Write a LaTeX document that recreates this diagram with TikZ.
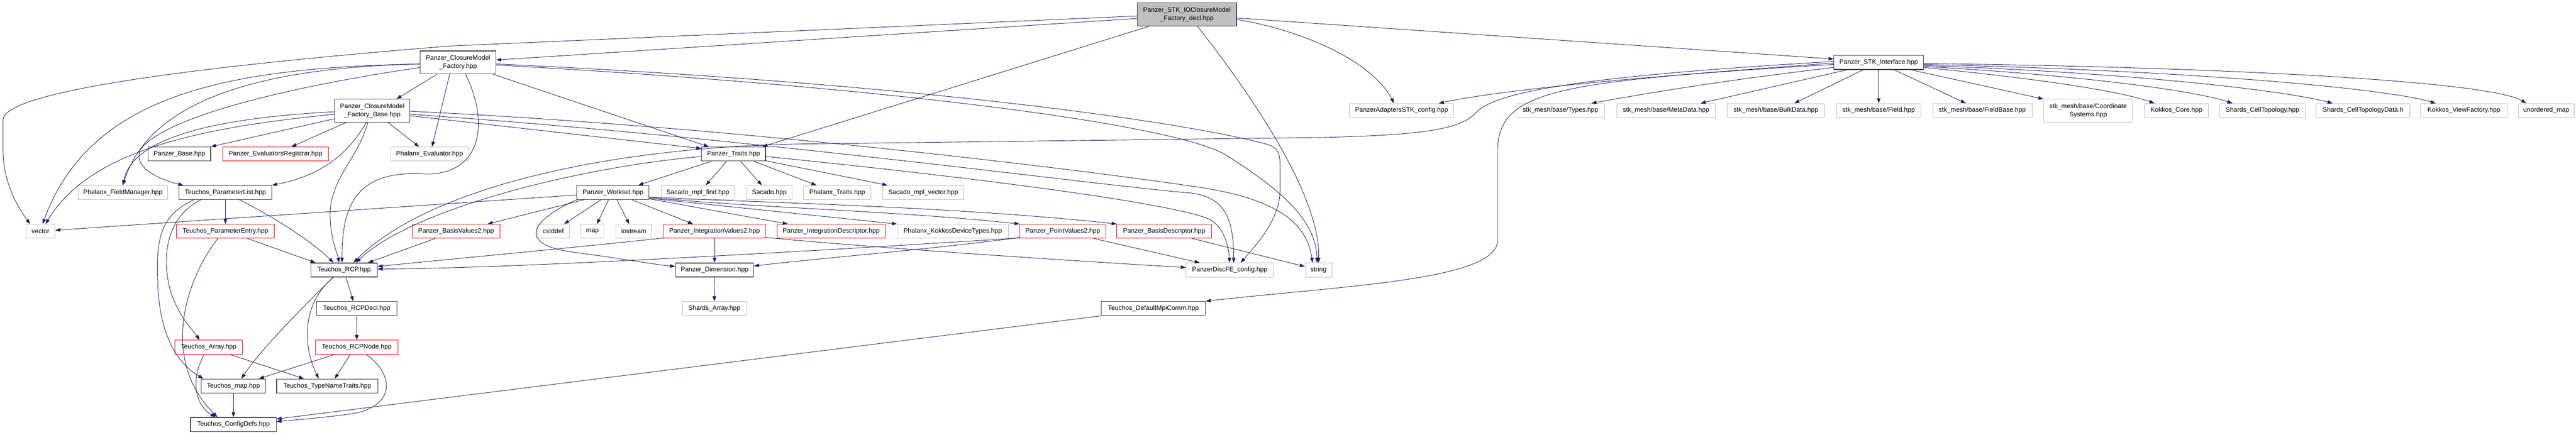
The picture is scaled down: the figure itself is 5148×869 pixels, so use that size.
\documentclass[tikz,border=0pt]{standalone}
\usepackage{fontspec}
\setmainfont{Liberation Sans}
\usetikzlibrary{arrows.meta,calc}
\definecolor{edgec}{HTML}{191970}
\definecolor{grayb}{HTML}{BFBFBF}
\definecolor{blackb}{HTML}{404040}
\begin{document}
\begin{tikzpicture}[x=1pt,y=-1pt,
  every node/.style={rectangle, inner sep=0pt, align=center, font=\fontsize{13}{17}\selectfont},
  nb/.style={draw=blackb, line width=1.3pt, fill=white, minimum height=28pt},
  ng/.style={draw=grayb, line width=1pt, fill=white, minimum height=28pt},
  nr/.style={draw=red, line width=1pt, fill=white, minimum height=28pt},
  nroot/.style={draw=blackb, line width=1.3pt, fill=grayb},
  edg/.style={draw=edgec, line width=0.9pt, -{Triangle[length=10pt,width=7pt]}}
]
\useasboundingbox (0,0) rectangle (5148,869);
\fill[white] (0,0) rectangle (5148,869);

% ---------- nodes ----------
\node[nroot, minimum width=198pt, minimum height=46pt] (R) at (2372,29) {Panzer\_STK\_IOClosureModel\\\_Factory\_decl.hpp};
\node[nb, minimum width=151pt, minimum height=46pt] (CMF) at (915.5,125) {Panzer\_ClosureModel\\\_Factory.hpp};
\node[nb, minimum width=150pt, minimum height=46pt] (CMFB) at (744,221.5) {Panzer\_ClosureModel\\\_Factory\_Base.hpp};
\node[nb, minimum width=125pt] (PBase) at (358.5,308) {Panzer\_Base.hpp};
\node[nr, minimum width=211pt] (EvalReg) at (550.5,308) {Panzer\_EvaluatorsRegistrar.hpp};
\node[ng, minimum width=155pt] (PhxEval) at (858.5,308) {Phalanx\_Evaluator.hpp};
\node[nb, minimum width=128pt] (Traits) at (1466,308) {Panzer\_Traits.hpp};
\node[ng, minimum width=179pt] (PhxFM) at (245.5,385) {Phalanx\_FieldManager.hpp};
\node[nb, minimum width=185pt] (PList) at (450.5,385) {Teuchos\_ParameterList.hpp};
\node[nb, minimum width=144pt] (Workset) at (1225,385) {Panzer\_Workset.hpp};
\node[ng, minimum width=147pt] (MplFind) at (1394.5,385) {Sacado\_mpl\_find.hpp};
\node[ng, minimum width=91pt] (Sacado) at (1537.5,385) {Sacado.hpp};
\node[ng, minimum width=134pt] (PhxTraits) at (1673,385) {Phalanx\_Traits.hpp};
\node[ng, minimum width=162pt] (MplVec) at (1845,385) {Sacado\_mpl\_vector.hpp};
\node[ng, minimum width=58pt] (vector) at (81,462.5) {vector};
\node[nr, minimum width=195pt] (PEntry) at (450.5,462.5) {Teuchos\_ParameterEntry.hpp};
\node[nr, minimum width=175pt] (BV2) at (911.5,462.5) {Panzer\_BasisValues2.hpp};
\node[ng, minimum width=65pt] (cstddef) at (1105.5,462.5) {cstddef};
\node[ng, minimum width=46pt] (map) at (1184,462.5) {map};
\node[ng, minimum width=71pt] (iostream) at (1266.5,462.5) {iostream};
\node[nr, minimum width=202pt] (IV2) at (1428,462.5) {Panzer\_IntegrationValues2.hpp};
\node[nr, minimum width=216pt] (IDesc) at (1661,462.5) {Panzer\_IntegrationDescriptor.hpp};
\node[ng, minimum width=222pt] (PKDT) at (1904,462.5) {Phalanx\_KokkosDeviceTypes.hpp};
\node[nr, minimum width=172pt] (PV2) at (2124,462.5) {Panzer\_PointValues2.hpp};
\node[nr, minimum width=189pt] (BD) at (2326.5,462.5) {Panzer\_BasisDescriptor.hpp};
\node[nb, minimum width=133pt] (RCP) at (687.5,540) {Teuchos\_RCP.hpp};
\node[nb, minimum width=156pt] (Dim) at (1428,540) {Panzer\_Dimension.hpp};
\node[ng, minimum width=175pt] (DiscFE) at (2457.5,540) {PanzerDiscFE\_config.hpp};
\node[ng, minimum width=54pt] (string) at (2635,540) {string};
\node[nb, minimum width=160pt] (RCPDecl) at (713,617) {Teuchos\_RCPDecl.hpp};
\node[ng, minimum width=127pt] (SArray) at (1427.5,617) {Shards\_Array.hpp};
\node[nb, minimum width=208pt] (Mpi) at (2305,617) {Teuchos\_DefaultMpiComm.hpp};
\node[nr, minimum width=134pt] (TArray) at (417,694.5) {Teuchos\_Array.hpp};
\node[nr, minimum width=164pt] (RCPNode) at (713,694.5) {Teuchos\_RCPNode.hpp};
\node[nb, minimum width=129pt] (TMap) at (466.5,772) {Teuchos\_map.hpp};
\node[nb, minimum width=202pt] (TNT) at (654,772) {Teuchos\_TypeNameTraits.hpp};
\node[nb, minimum width=171pt] (CDefs) at (466.5,849) {Teuchos\_ConfigDefs.hpp};
\node[ng, minimum width=208pt] (PASTK) at (2801,221) {PanzerAdaptersSTK\_config.hpp};
\node[ng, minimum width=177pt] (Types) at (3118.5,221) {stk\_mesh/base/Types.hpp};
\node[ng, minimum width=197pt] (Meta) at (3329.5,221) {stk\_mesh/base/MetaData.hpp};
\node[ng, minimum width=194pt] (Bulk) at (3549,221) {stk\_mesh/base/BulkData.hpp};
\node[nb, minimum width=179pt] (STKI) at (3754.5,125) {Panzer\_STK\_Interface.hpp};
\node[ng, minimum width=169pt] (Field) at (3754.5,221) {stk\_mesh/base/Field.hpp};
\node[ng, minimum width=199pt] (FieldBase) at (3961.5,221) {stk\_mesh/base/FieldBase.hpp};
\node[ng, minimum width=178pt, minimum height=46pt] (Coord) at (4173,221.5) {stk\_mesh/base/Coordinate\\Systems.hpp};
\node[ng, minimum width=127pt] (KCore) at (4349.5,221) {Kokkos\_Core.hpp};
\node[ng, minimum width=171pt] (CellTop) at (4521.5,221) {Shards\_CellTopology.hpp};
\node[ng, minimum width=187pt] (CellTopD) at (4722.5,221) {Shards\_CellTopologyData.h};
\node[ng, minimum width=172pt] (ViewF) at (4924,221) {Kokkos\_ViewFactory.hpp};
\node[ng, minimum width=111pt] (umap) at (5088.5,221) {unordered\_map};

% ---------- edges: root ----------
\draw[edg] ($(R.west)+(0,3)$) -- (900,92) .. controls (300,140) and (6,190) .. (6,240) -- (6,300) .. controls (6,370) and (40,420) .. ($(vector.north)+(-21,0)$);
\draw[edg] ($(R.west)+(0,8)$) -- ($(CMF.east)+(0,-5)$);
\draw[edg] ($(R.south west)+(24,0)$) -- ($(Traits.north east)+(-7,0)$);
\draw[edg] ($(R.east)+(0,10)$) .. controls (2600,60) and (2740,120) .. ($(PASTK.north)+(-15,0)$);
\draw[edg] ($(R.east)+(0,7)$) -- ($(STKI.west)+(0,-7)$);
\draw[edg] ($(R.south)+(21,0)$) .. controls (2470,150) and (2640,380) .. (string.north);

% ---------- CMF ----------
\draw[edg] ($(CMF.west)+(0,3)$) .. controls (450,135) and (180,190) .. ($(vector.north)+(4,0)$);
\draw[edg] ($(CMF.west)+(0,3)$) .. controls (520,135) and (300,200) .. (PhxFM.north);
\draw[edg] ($(CMF.west)+(0,10)$) .. controls (600,170) and (330,230) .. (280,300) .. controls (265,340) and (330,362) .. ($(PList.north west)+(9,0)$);
\draw[edg] ($(CMF.south west)+(34,0)$) -- ($(CMFB.north east)+(-27,0)$);
\draw[edg] ($(CMF.south)+(-17,0)$) -- ($(PhxEval.north)+(5,0)$);
\draw[edg] ($(CMF.south)+(15,0)$) .. controls (980,250) and (960,350) .. (850,348) .. controls (720,340) and (683,400) .. ($(RCP.north)+(-4,0)$);
\draw[edg] ($(CMF.south east)+(-6,0)$) -- ($(Traits.north west)+(15,0)$);
\draw[edg] ($(CMF.east)+(0,3)$) .. controls (1800,165) and (2350,240) .. (2530,288) .. controls (2560,296) and (2558,315) .. (2558,340) -- (2558,380) .. controls (2558,440) and (2510,490) .. ($(DiscFE.north)+(22,0)$);
\draw[edg] ($(CMF.east)+(0,5)$) .. controls (1800,175) and (2350,250) .. (2450,310) .. controls (2560,380) and (2630,440) .. ($(string.north)+(-3,0)$);

% ---------- CMF Base ----------
\draw[edg] ($(CMFB.west)+(0,2)$) .. controls (450,235) and (265,270) .. (PhxFM.north);
\draw[edg] ($(CMFB.west)+(0,7)$) .. controls (400,255) and (180,300) .. ($(vector.north)+(10,0)$);
\draw[edg] ($(CMFB.west)+(0,16)$) -- (PBase.north east);
\draw[edg] ($(CMFB.south west)+(23,0)$) -- ($(EvalReg.north)+(32,0)$);
\draw[edg] ($(CMFB.south)+(-12,0)$) .. controls (700,300) and (650,350) .. (PList.north east);
\draw[edg] ($(CMFB.south)+(-9,0)$) .. controls (715,320) and (655,360) .. (660,440) .. controls (662,480) and (675,510) .. ($(RCP.north)+(-10,0)$);
\draw[edg] ($(CMFB.south east)+(-44,0)$) -- ($(PhxEval.north west)+(57,0)$);
\draw[edg] ($(CMFB.east)+(0,10)$) -- ($(Traits.west)+(0,-11)$);
\draw[edg] ($(CMFB.east)+(0,1)$) .. controls (1500,255) and (2200,345) .. (2400,375) .. controls (2560,400) and (2612,450) .. ($(string.north)+(-12,0)$);
\draw[edg] ($(CMFB.east)+(0,7)$) .. controls (1500,275) and (2200,372) .. (2380,386) .. controls (2450,395) and (2465,440) .. ($(DiscFE.north)+(8,0)$);

% ---------- Traits ----------
\draw[edg] ($(Traits.south west)+(20,0)$) -- ($(Workset.north east)+(-22,0)$);
\draw[edg] ($(Traits.south)+(-14,0)$) -- ($(MplFind.north)+(16,0)$);
\draw[edg] ($(Traits.south)+(14,0)$) -- ($(Sacado.north)+(-15,0)$);
\draw[edg] ($(Traits.south east)+(-24,0)$) -- ($(PhxTraits.north west)+(26,0)$);
\draw[edg] ($(Traits.south east)+(0,-1)$) -- ($(MplVec.north west)+(10,0)$);
\draw[edg] ($(Traits.east)+(0,5)$) .. controls (1900,350) and (2350,405) .. (2420,440) .. controls (2445,455) and (2455,490) .. (DiscFE.north);
\draw[edg] ($(Traits.west)+(0,5)$) .. controls (1150,335) and (820,420) .. ($(RCP.north)+(24,0)$);

% ---------- Workset ----------
\draw[edg] ($(Workset.west)+(0,5)$) -- ($(vector.east)+(0,-2)$);
\draw[edg] ($(Workset.south west)+(14,0)$) -- ($(BV2.north east)+(-25,0)$);
\draw[edg] ($(Workset.south west)+(2,-1)$) .. controls (1060,440) and (1030,490) .. (1150,505) .. controls (1250,518) and (1300,528) .. ($(Dim.west)+(0,-7)$);
\draw[edg] ($(Workset.south)+(-24,0)$) -- ($(cstddef.north east)+(-11,0)$);
\draw[edg] ($(Workset.south)+(-9,0)$) -- ($(map.north)+(9,0)$);
\draw[edg] ($(Workset.south)+(8,0)$) -- ($(iostream.north)+(-9,0)$);
\draw[edg] ($(Workset.south)+(38,0)$) -- ($(IV2.north)+(-43,0)$);
\draw[edg] ($(Workset.south east)+(0,-2)$) -- ($(IDesc.north west)+(22,0)$);
\draw[edg] ($(Workset.south east)+(0,-3)$) -- (PKDT.north west);
\draw[edg] ($(Workset.east)+(0,10)$) .. controls (1500,415) and (1800,422) .. (PV2.north west);
\draw[edg] ($(Workset.east)+(0,9)$) .. controls (1500,405) and (1900,412) .. (BD.north west);

% ---------- second row ----------
\draw[edg] ($(BV2.south west)+(46,0)$) -- ($(RCP.north east)+(-19,0)$);
\draw[edg] (IV2.south) -- (Dim.north);
\draw[edg] ($(IV2.south west)+(0,-1)$) .. controls (1100,500) and (880,520) .. ($(RCP.east)+(0,-7)$);
\draw[edg] ($(IV2.south east)+(0,-2)$) .. controls (1800,500) and (2200,525) .. ($(DiscFE.west)+(0,-5)$);
\draw[edg] ($(PV2.south east)+(-25,0)$) -- ($(DiscFE.north west)+(28,0)$);
\draw[edg] ($(PV2.south west)+(0,-2)$) .. controls (1850,500) and (1650,515) .. ($(Dim.east)+(0,-8)$);
\draw[edg] ($(PV2.south west)+(0,-1)$) .. controls (1500,510) and (1000,537) .. ($(RCP.east)+(0,-2)$);
\draw[edg] ($(BD.south east)+(-39,0)$) -- ($(string.west)+(0,-7)$);
\draw[edg] (Dim.south) -- (SArray.north);

% ---------- Teuchos ----------
\draw[edg] (PList.south) -- (PEntry.north);
\draw[edg] ($(PList.south)+(28,0)$) .. controls (540,430) and (620,480) .. ($(RCP.north)+(-21,0)$);
\draw[edg] ($(PList.south west)+(30,0)$) .. controls (320,430) and (312,480) .. (315,560) .. controls (318,680) and (360,730) .. ($(TMap.north west)+(5,0)$);
\draw[edg] ($(PList.south west)+(44,0)$) .. controls (340,430) and (320,500) .. (340,580) .. controls (355,630) and (385,660) .. ($(TArray.north)+(-18,0)$);
\draw[edg] ($(PEntry.south)+(44,0)$) -- ($(RCP.north west)+(10,0)$);
\draw[edg] ($(PEntry.south)+(-15,0)$) .. controls (370,560) and (320,720) .. ($(CDefs.north)+(-32,0)$);
\draw[edg] ($(TArray.south)+(-9,0)$) .. controls (380,760) and (390,810) .. ($(CDefs.north)+(-36,0)$);
\draw[edg] ($(TArray.south east)+(-25,0)$) -- ($(TNT.north west)+(55,0)$);
\draw[edg] ($(RCP.south)+(4,0)$) -- ($(RCPDecl.north)+(-7,0)$);
\draw[edg] ($(RCP.south)+(-22,0)$) .. controls (600,620) and (520,700) .. ($(TMap.north)+(16,0)$);
\draw[edg] ($(RCP.south)+(-21,0)$) .. controls (610,600) and (600,680) .. ($(TNT.north)+(-17,0)$);
\draw[edg] (RCPDecl.south) -- (RCPNode.north);
\draw[edg] ($(RCPNode.south west)+(38,0)$) -- ($(TMap.north east)+(-14,0)$);
\draw[edg] ($(RCPNode.south)+(-13,0)$) -- ($(TNT.north)+(15,0)$);
\draw[edg] ($(RCPNode.south)+(19,0)$) .. controls (790,750) and (790,815) .. (700,828) .. controls (640,836) and (590,840) .. ($(CDefs.east)+(0,-6)$);
\draw[edg] (TMap.south) -- (CDefs.north);
\draw[edg] (Mpi.south west) -- ($(CDefs.east)+(0,-11)$);

% ---------- STK interface ----------
\draw[edg] ($(STKI.west)+(0,-2)$) .. controls (3200,150) and (2990,180) .. (2950,225) .. controls (2920,258) and (2850,270) .. (2640,275) -- (1600,288) .. controls (1200,295) and (850,380) .. ($(RCP.north)+(19,0)$);
\draw[edg] ($(STKI.west)+(0,1)$) .. controls (3150,165) and (2993,170) .. (2993,300) -- (2993,480) .. controls (2993,560) and (2700,570) .. (Mpi.north east);
\draw[edg] ($(STKI.west)+(0,4)$) .. controls (3300,150) and (3000,180) .. ($(PASTK.north east)+(-30,0)$);
\draw[edg] ($(STKI.west)+(0,10)$) .. controls (3450,160) and (3300,185) .. ($(Types.north)+(62,0)$);
\draw[edg] ($(STKI.south west)+(27,0)$) -- ($(Meta.north east)+(-30,0)$);
\draw[edg] ($(STKI.south)+(-31,0)$) -- ($(Bulk.north)+(37,0)$);
\draw[edg] (STKI.south) -- (Field.north);
\draw[edg] ($(STKI.south)+(31,0)$) -- ($(FieldBase.north)+(-33,0)$);
\draw[edg] ($(STKI.south east)+(-26,0)$) -- (Coord.north west);
\draw[edg] ($(STKI.east)+(0,10)$) .. controls (4050,155) and (4230,180) .. ($(KCore.north west)+(20,0)$);
\draw[edg] ($(STKI.east)+(0,8)$) .. controls (4150,150) and (4380,180) .. ($(CellTop.north west)+(26,0)$);
\draw[edg] ($(STKI.east)+(0,6)$) .. controls (4250,145) and (4560,180) .. ($(CellTopD.north west)+(33,0)$);
\draw[edg] ($(STKI.east)+(0,4)$) .. controls (4350,140) and (4760,175) .. ($(ViewF.north west)+(30,0)$);
\draw[edg] ($(STKI.east)+(0,2)$) .. controls (4500,135) and (4980,165) .. ($(umap.north west)+(16,0)$);
\end{tikzpicture}
\end{document}
